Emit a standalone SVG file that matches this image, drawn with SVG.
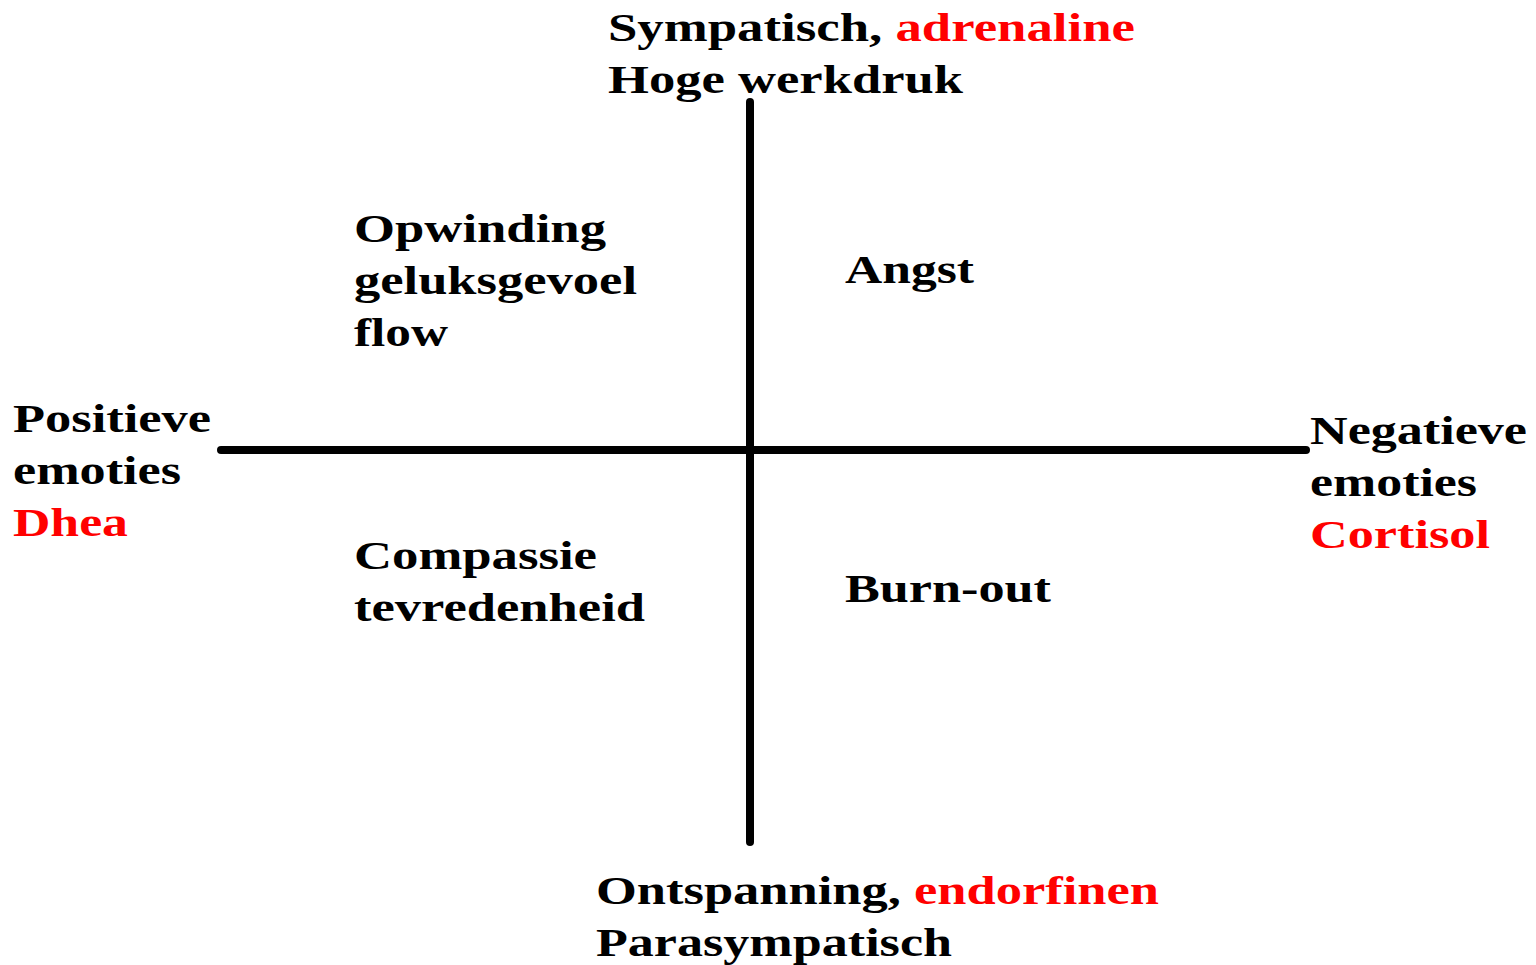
<svg xmlns="http://www.w3.org/2000/svg" width="1536" height="965" viewBox="0 0 1536 965">
<style>
text{font-family:"Liberation Serif","Times New Roman",serif;font-weight:bold;font-size:40px;fill:#000}
.r{fill:#ff0000}
.ax{stroke:#000;stroke-width:8;stroke-linecap:round;fill:none}
</style>
<rect width="1536" height="965" fill="#fff"/>
<g id="connectors">
<line class="ax" x1="750" y1="102" x2="750" y2="842"/>
<line class="ax" x1="221" y1="450" x2="1306" y2="450"/>
</g>
<g id="top"><text x="608" y="41" textLength="527" lengthAdjust="spacingAndGlyphs">Sympatisch, <tspan class="r">adrenaline</tspan></text><text x="608" y="93" textLength="355" lengthAdjust="spacingAndGlyphs">Hoge werkdruk</text></g>
<g id="q1"><text x="354" y="242" textLength="252" lengthAdjust="spacingAndGlyphs">Opwinding</text><text x="354" y="294" textLength="283" lengthAdjust="spacingAndGlyphs">geluksgevoel</text><text x="354" y="346" textLength="94" lengthAdjust="spacingAndGlyphs">flow</text></g>
<g id="q2"><text x="845" y="283" textLength="129" lengthAdjust="spacingAndGlyphs">Angst</text></g>
<g id="left"><text x="13" y="432" textLength="198" lengthAdjust="spacingAndGlyphs">Positieve</text><text x="13" y="484" textLength="168" lengthAdjust="spacingAndGlyphs">emoties</text><text x="13" y="536" class="r" textLength="115" lengthAdjust="spacingAndGlyphs">Dhea</text></g>
<g id="right"><text x="1310" y="444" textLength="217" lengthAdjust="spacingAndGlyphs">Negatieve</text><text x="1310" y="496" textLength="167" lengthAdjust="spacingAndGlyphs">emoties</text><text x="1310" y="548" class="r" textLength="180" lengthAdjust="spacingAndGlyphs">Cortisol</text></g>
<g id="q3"><text x="354" y="569" textLength="243" lengthAdjust="spacingAndGlyphs">Compassie</text><text x="354" y="621" textLength="291" lengthAdjust="spacingAndGlyphs">tevredenheid</text></g>
<g id="q4"><text x="845" y="602" textLength="206" lengthAdjust="spacingAndGlyphs">Burn-out</text></g>
<g id="bottom"><text x="596" y="904" textLength="563" lengthAdjust="spacingAndGlyphs">Ontspanning, <tspan class="r">endorfinen</tspan></text><text x="596" y="956" textLength="356" lengthAdjust="spacingAndGlyphs">Parasympatisch</text></g>
</svg>
